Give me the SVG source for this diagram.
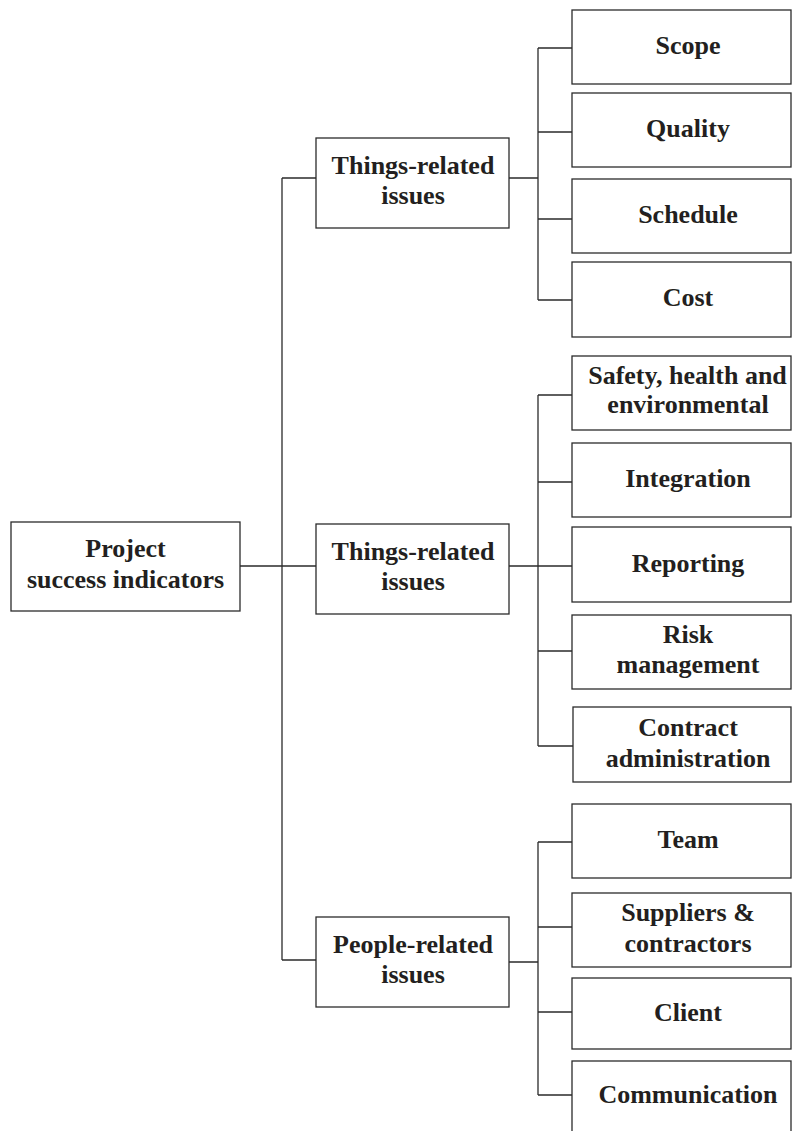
<svg xmlns="http://www.w3.org/2000/svg" width="792" height="1131" viewBox="0 0 792 1131">
<style>
rect{fill:#fff;stroke:#2b2b2b;stroke-width:1.3}
text{font-family:"Liberation Serif","Times New Roman",serif;font-weight:bold;font-size:26px;fill:#231f20;text-anchor:middle}
.c path{fill:none;stroke:#2b2b2b;stroke-width:1.3}
</style>
<rect x="0" y="0" width="792" height="1131" style="fill:#fff;stroke:none"/>
<g class="c" id="connectors">
<path d="M240 566H316M282 178V960M282 178H316M282 960H316"/>
<path d="M509 178H538M538 48V300M538 48H572M538 132H572M538 219H572M538 300H572"/>
<path d="M509 566H572M538 395V746M538 395H572M538 482H572M538 651H572M538 746H573"/>
<path d="M509 962H538M538 842V1095M538 842H572M538 927H572M538 1012H572M538 1095H572"/>
</g>
<g id="root"><rect x="11" y="522" width="229" height="89"/><text x="125.5" y="557">Project</text><text x="125.5" y="588">success indicators</text></g>
<g id="things1"><rect x="316" y="138" width="193" height="90"/><text x="413" y="174">Things-related</text><text x="413" y="204">issues</text></g>
<g id="things2"><rect x="316" y="524" width="193" height="90"/><text x="413" y="560">Things-related</text><text x="413" y="590">issues</text></g>
<g id="people"><rect x="316" y="917" width="193" height="90"/><text x="413" y="953">People-related</text><text x="413" y="983">issues</text></g>
<g id="scope"><rect x="572" y="10" width="219" height="74"/><text x="688" y="54">Scope</text></g>
<g id="quality"><rect x="572" y="93" width="219" height="74"/><text x="688" y="137">Quality</text></g>
<g id="schedule"><rect x="572" y="179" width="219" height="74"/><text x="688" y="223">Schedule</text></g>
<g id="cost"><rect x="572" y="262" width="219" height="75"/><text x="688" y="306">Cost</text></g>
<g id="safety"><rect x="572" y="356" width="219" height="74"/><text x="687.5" y="384">Safety, health and</text><text x="688" y="413">environmental</text></g>
<g id="integration"><rect x="572" y="443" width="219" height="74"/><text x="688" y="487">Integration</text></g>
<g id="reporting"><rect x="572" y="527" width="219" height="75"/><text x="688" y="572">Reporting</text></g>
<g id="risk"><rect x="572" y="615" width="219" height="74"/><text x="688" y="643">Risk</text><text x="688" y="673">management</text></g>
<g id="contract"><rect x="573" y="707" width="218" height="75"/><text x="688" y="736">Contract</text><text x="688" y="767">administration</text></g>
<g id="team"><rect x="572" y="804" width="219" height="74"/><text x="688" y="848">Team</text></g>
<g id="suppliers"><rect x="572" y="893" width="219" height="74"/><text x="688" y="921">Suppliers &amp;</text><text x="688" y="952">contractors</text></g>
<g id="client"><rect x="572" y="978" width="219" height="71"/><text x="688" y="1021">Client</text></g>
<g id="communication"><rect x="572" y="1061" width="219" height="80"/><text x="688" y="1103">Communication</text></g>
</svg>
